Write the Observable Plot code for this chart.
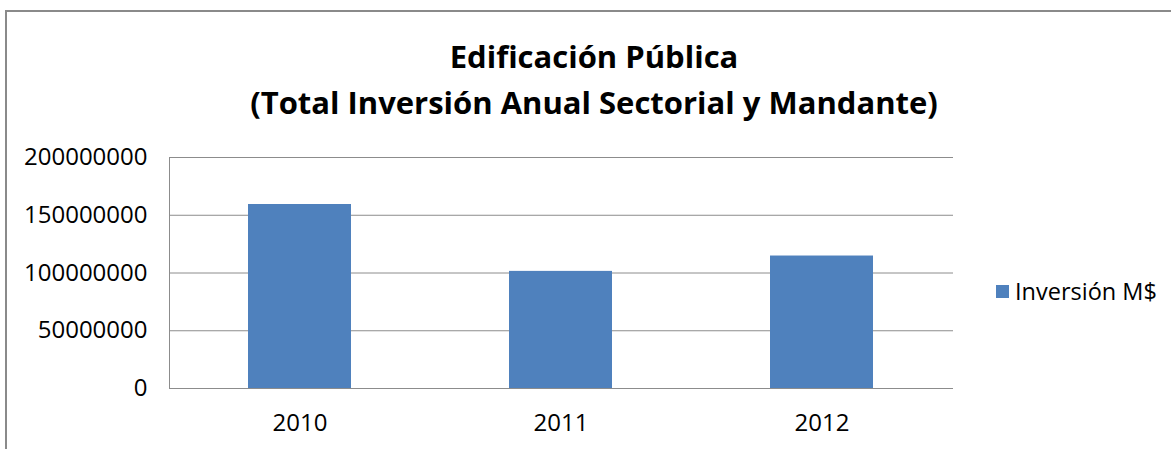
<!DOCTYPE html>
<html>
<head>
<meta charset="utf-8">
<script src="https://cdn.jsdelivr.net/npm/d3@7"></script>
<script src="https://cdn.jsdelivr.net/npm/@observablehq/plot@0.6"></script>
<style>
  body { margin: 0; background: #fff; }
  #wrap { position: relative; width: 1171px; height: 449px; overflow: hidden; font-family: "Open Sans", sans-serif; background: #fff; }
  #border { position: absolute; left: 5px; top: 10px; width: 1300px; height: 600px; border-top: 2px solid #8a8a8a; border-left: 2px solid #8a8a8a; }
  #chart { position: absolute; left: 0; top: 0; }
  #title { position: absolute; left: 0; width: 1188px; top: 33px; text-align: center; font-weight: bold; font-size: 31px; line-height: 46px; color: #000; }
  #title div { display: block; }
  #legend { position: absolute; left: 996px; top: 275px; display: flex; align-items: center; font-size: 23.5px; color: #000; }
  #legend .sw { width: 13px; height: 13px; margin-right: 6px; }
</style>
</head>
<body>
<div id="wrap">
  <div id="border"></div>
  <div id="chart"></div>
  <div id="title"></div>
  <div id="legend"></div>
</div>
<script>
const titleLines = ["Edificación Pública", "(Total Inversión Anual Sectorial y Mandante)"];
const seriesName = "Inversión M$";
const years = ["2010", "2011", "2012"];
const investment = [159300000, 101400000, 114700000];
const yTicks = [0, 50000000, 100000000, 150000000, 200000000];
const barColor = "#4F81BD";

const data = years.map((y, i) => ({year: y, value: investment[i]}));

const plot = Plot.plot({
  width: 1171,
  height: 449,
  marginLeft: 169,
  marginRight: 218,
  marginTop: 157,
  marginBottom: 61,
  style: { fontFamily: "Open Sans", fontSize: "24px", color: "#000", background: "transparent" },
  x: { domain: years, paddingInner: 0.604, paddingOuter: 0.302, label: null },
  y: { domain: [0, 200000000], label: null },
  marks: [
    Plot.gridY(yTicks, { stroke: "#8c8c8c", strokeOpacity: 1, strokeWidth: 1 }),
    Plot.frame({ anchor: "left", stroke: "#8c8c8c", strokeOpacity: 1 }),
    Plot.barY(data, { x: "year", y: "value", fill: barColor }),
    Plot.axisY(yTicks, { tickSize: 0, tickPadding: 22, tickFormat: d => String(d), label: null }),
    Plot.axisX({ tickSize: 0, tickPadding: 25, label: null })
  ]
});
document.getElementById("chart").appendChild(plot);

const t = document.getElementById("title");
titleLines.forEach(s => { const d = document.createElement("div"); d.textContent = s; t.appendChild(d); });

const lg = document.getElementById("legend");
lg.innerHTML = `<span class="sw" style="background:${barColor}"></span><span>${seriesName}</span>`;
</script>
</body>
</html>
